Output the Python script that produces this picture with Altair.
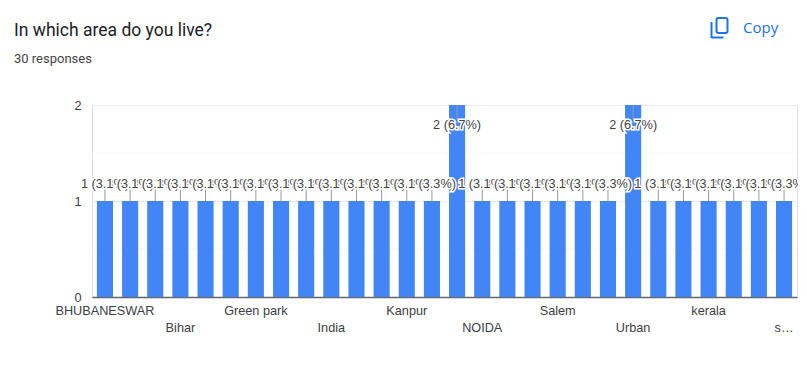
import altair as alt
import pandas as pd

areas = ["BHUBANESWAR", "(area 2)", "(area 3)", "Bihar", "(area 5)", "(area 6)", "Green park",
         "(area 8)", "(area 9)", "India", "(area 11)", "(area 12)", "Kanpur", "(area 14)",
         "(area 15)", "NOIDA", "(area 17)", "(area 18)", "Salem", "(area 20)", "(area 21)",
         "Urban", "(area 23)", "(area 24)", "kerala", "(area 26)", "(area 27)", "s\u2026"]
counts = [1, 1, 1, 1, 1, 1, 1, 1, 1, 1, 1, 1, 1, 1, 2, 1, 1, 1, 1, 1, 1, 2, 1, 1, 1, 1, 1, 1]
value_labels = ["2 (6.7%)" if c == 2 else "1 (3.3%)" for c in counts]
row_one = ["BHUBANESWAR", "Green park", "Kanpur", "Salem", "kerala"]
row_two = ["Bihar", "India", "NOIDA", "Urban", "s\u2026"]
minor_grid = [0.5, 1.5]
y_ticks = [0, 1, 2]

FONT = "Liberation Sans"
FS = 12.7
df = pd.DataFrame({"area": areas, "count": counts, "label": value_labels, "order": range(len(areas))})

x_scale = alt.Scale(domain=areas, paddingInner=0.36, paddingOuter=0.195)
y_scale = alt.Scale(domain=[0, 2], nice=False)

def js_list(items):
    return "[" + ",".join("'" + i + "'" for i in items) + "]"

label_expr = (f"indexof({js_list(row_one)},datum.value)>=0?datum.value:"
              f"(indexof({js_list(row_two)},datum.value)>=0?['',datum.value]:'')")

x_axis = alt.Axis(
    labelExpr=label_expr, labelAngle=0, labelOverlap=False, labelBound=False, labelFlush=False,
    labelFont=FONT, labelFontSize=FS, labelColor="#3c4043", labelLineHeight=17, labelPadding=7,
    labelBaseline="top", ticks=False, domainColor="#666666", domainWidth=1.5, grid=False, title=None)
y_axis = alt.Axis(
    values=y_ticks, domain=False, ticks=False, labelPadding=11, labelExpr="'' + datum.value",
    labelOverlap=False, labelFont=FONT, labelFontSize=FS, labelColor="#3c4043",
    grid=True, gridColor="#ebebeb", title=None)

X = alt.X("area:N", scale=x_scale, axis=x_axis)
def Y(field):
    return alt.Y(field, scale=y_scale, axis=y_axis)

base = alt.Chart(df)

minor = alt.Chart(pd.DataFrame({"v": minor_grid})).mark_rule(color="#f6f6f6", strokeWidth=1).encode(
    y=Y("v:Q"))

bars = base.mark_bar(color="#4285f4").encode(x=X, y=Y("count:Q"))

leaders = base.transform_calculate(
    end="datum.count == 2 ? datum.count - 0.16 : datum.count + 0.125"
).mark_rule(color="#999999", strokeWidth=1).encode(x=X, y=Y("count:Q"), y2="end:Q")

text_layers = []
for i in range(len(areas)):
    one = base.transform_filter(f"datum.order == {i}").transform_calculate(
        pos="datum.count == 2 ? datum.count - 0.21 : datum.count + 0.177")
    enc = dict(x=X, y=Y("pos:Q"), text="label:N")
    style = dict(font=FONT, fontSize=FS, align="center", baseline="middle")
    text_layers.append(one.mark_text(stroke="#ffffff", strokeWidth=3, fill="#ffffff", **style).encode(**enc))
    text_layers.append(one.mark_text(color="#444444", **style).encode(**enc))

one_row = alt.Chart(pd.DataFrame({"a": [0]}))
icon_color = "#1a73e8"
icon_back = one_row.mark_rect(fill="#ffffff", stroke=icon_color, strokeWidth=2, cornerRadius=2).encode(
    x=alt.value(624.5), x2=alt.value(635.5), y=alt.value(-87), y2=alt.value(-72))
icon_v = one_row.mark_rule(color=icon_color, strokeWidth=2).encode(
    x=alt.value(619.5), y=alt.value(-83), y2=alt.value(-67))
icon_h = one_row.mark_rule(color=icon_color, strokeWidth=2).encode(
    x=alt.value(619.5), x2=alt.value(631.5), y=alt.value(-67.5))
copy = one_row.transform_calculate(t="'Copy'").mark_text(
    font="Open Sans", fontSize=15, color=icon_color, align="left", baseline="middle", fontWeight=500
).encode(x=alt.value(651), y=alt.value(-77), text="t:N")

chart = alt.layer(minor, bars, leaders, *text_layers, icon_back, icon_v, icon_h, copy).properties(
    width=705, height=192,
    autosize=alt.AutoSizeParams(type="none"),
    padding={"left": 84, "top": 97, "right": 1, "bottom": 50},
    title=alt.TitleParams(
        text="In which area do you live?", subtitle="30 responses",
        anchor="start", frame="group", dx=-78, offset=-49,
        font="Roboto", fontSize=17.5, fontWeight="normal", color="#202124",
        subtitleFont="Roboto", subtitleFontSize=13, subtitleColor="#444444", subtitlePadding=14),
).configure_view(stroke="#ebebeb", strokeWidth=1).configure(background="#ffffff")

chart.save("out.html", embed_options={"renderer": "svg", "actions": False})
